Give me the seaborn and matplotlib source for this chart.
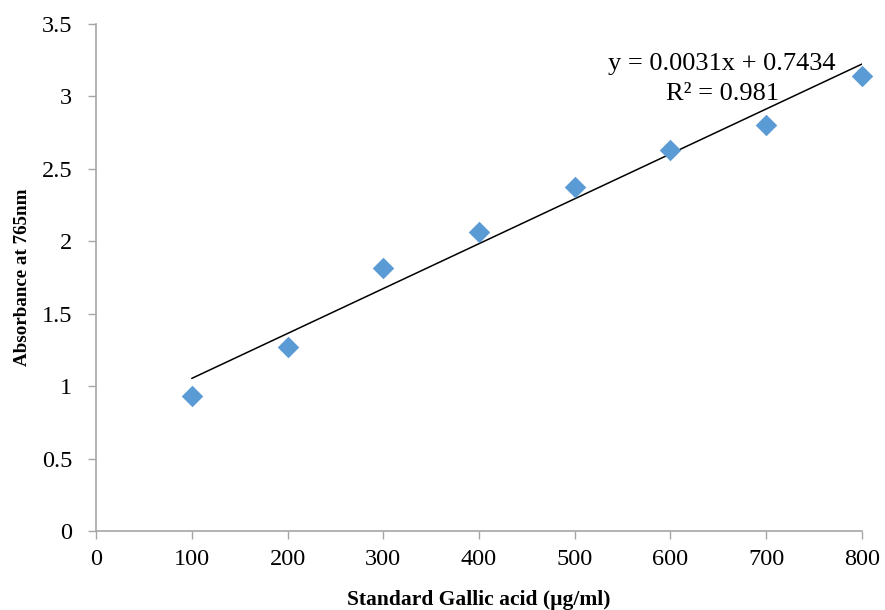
import numpy as np
import pandas as pd
import seaborn as sns
import matplotlib.pyplot as plt

# standard gallic acid concentration (ug/ml) vs absorbance
conc = [100, 200, 300, 400, 500, 600, 700, 800]
absorbance = [0.93, 1.27, 1.815, 2.065, 2.375, 2.63, 2.80, 3.14]
slope = 0.0031
intercept = 0.7434
r2 = 0.981

x_ticks = [0, 100, 200, 300, 400, 500, 600, 700, 800]
y_ticks = [0, 0.5, 1, 1.5, 2, 2.5, 3, 3.5]
y_ticklabels = ["0", "0.5", "1", "1.5", "2", "2.5", "3", "3.5"]

sns.set_style("white")
plt.rcParams['font.family'] = ['Liberation Serif', 'DejaVu Serif']
plt.rcParams['text.color'] = 'black'
plt.rcParams['axes.labelcolor'] = 'black'
plt.rcParams['xtick.color'] = 'black'
plt.rcParams['ytick.color'] = 'black'

df = pd.DataFrame({"conc": conc, "abs": absorbance})
trend = pd.DataFrame({"conc": [conc[0], conc[-1]]})
trend["fit"] = slope * trend["conc"] + intercept

fig = plt.figure(figsize=(8.85, 6.1), dpi=100)
ax = fig.add_axes([0.1085, 0.1295, 0.8655, 0.8312])

sns.lineplot(data=trend, x="conc", y="fit", color="black", linewidth=1.1, ax=ax)
sns.scatterplot(data=df, x="conc", y="abs", marker="D", s=120, color="#5B9BD5",
                edgecolor="#5B9BD5", linewidth=0, ax=ax, zorder=3, clip_on=False)

ax.text(654, 3.225, f"y = {slope}x + {intercept}", ha="center", va="center", fontsize=19)
ax.text(654, 3.015, f"R² = {r2}", ha="center", va="center", fontsize=19)

ax.set_xlim(0, 800)
ax.set_ylim(0, 3.5)
ax.set_xticks(x_ticks)
ax.set_yticks(y_ticks)
ax.set_yticklabels(y_ticklabels)
ax.tick_params(axis="both", labelsize=17.5, length=6, width=1, color="#A6A6A6",
               direction="out", bottom=True, left=True, labelcolor="black")
ax.tick_params(axis="x", pad=7)
ax.tick_params(axis="y", pad=11)
for side in ["top", "right"]:
    ax.spines[side].set_visible(False)
for side in ["left", "bottom"]:
    ax.spines[side].set_color("#A6A6A6")
    ax.spines[side].set_linewidth(1.2)

ax.set_xlabel("Standard Gallic acid (µg/ml)", fontsize=15.5, fontweight="bold", labelpad=14)
ax.set_ylabel("Absorbance at 765nm", fontsize=13.7, fontweight="bold", labelpad=8)

fig.savefig("out.png", dpi=100)
